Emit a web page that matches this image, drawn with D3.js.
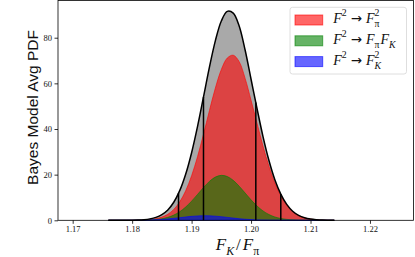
<!DOCTYPE html>
<html lang="en">
<head>
<meta charset="utf-8">
<title>Bayes model average PDF of FK/Fpi</title>
<script src="https://d3js.org/d3.v7.min.js"></script>
<style>
    body { margin: 0; background: #fff; }
    text { font-family: 'Liberation Serif', serif; fill: #111; }
    .ylabel { font-family: 'Liberation Sans', sans-serif; }
</style>
</head>
<body>
<svg width="415" height="257"></svg>
<script>
// F_K/F_pi grid the curves were read on
var xs = [1.176, 1.177, 1.178, 1.179, 1.180, 1.181, 1.182, 1.183, 1.184, 1.185,
          1.186, 1.187, 1.188, 1.189, 1.190, 1.191, 1.192, 1.193, 1.194, 1.195,
          1.196, 1.197, 1.198, 1.199, 1.200, 1.201, 1.202, 1.203, 1.204, 1.205,
          1.206, 1.207, 1.208, 1.209, 1.210, 1.211, 1.212, 1.213, 1.214];

// total model average (gray)
var totalPdf = [0.001, 0.002, 0.008, 0.022, 0.054, 0.13, 0.29, 0.63, 1.28, 2.49,
                4.54, 7.90, 12.98, 20.16, 29.62, 41.15, 54.04, 67.08, 78.71, 87.31,
                91.55, 90.79, 85.15, 74.60, 61.80, 49.00, 36.80, 26.30, 17.80, 11.50,
                6.98, 3.98, 2.15, 1.10, 0.53, 0.25, 0.10, 0.044, 0.017];

// F^2 -> F_pi^2 (red)
var pi2Pdf = [0.000, 0.001, 0.003, 0.009, 0.024, 0.061, 0.146, 0.327, 0.70, 1.40,
              2.65, 4.76, 8.07, 12.91, 19.52, 27.90, 37.68, 48.08, 57.97, 66.05,
              71.10, 72.32, 69.51, 62.18, 52.55, 42.55, 32.58, 23.72, 16.31, 10.70,
              6.57, 3.79, 2.07, 1.07, 0.52, 0.24, 0.10, 0.043, 0.017];

// F^2 -> F_pi F_K (green)
var piKPdf = [0.000, 0.000, 0.001, 0.004, 0.011, 0.029, 0.070, 0.16, 0.34, 0.69,
              1.29, 2.28, 3.76, 5.80, 8.38, 11.34, 14.36, 17.04, 18.93, 19.69,
              19.18, 17.50, 14.94, 11.95, 8.95, 6.27, 4.12, 2.53, 1.46, 0.79,
              0.40, 0.19, 0.083, 0.034, 0.013, 0.005, 0.002, 0.001, 0.000];

// F^2 -> F_K^2 (blue)
var k2Pdf = [0.001, 0.001, 0.004, 0.009, 0.019, 0.040, 0.077, 0.14, 0.24, 0.40,
             0.60, 0.86, 1.15, 1.45, 1.72, 1.91, 2.00, 1.96, 1.81, 1.57,
             1.27, 0.97, 0.70, 0.47, 0.30, 0.18, 0.10, 0.052, 0.026, 0.012,
             0.005, 0.002, 0.001, 0, 0, 0, 0, 0, 0];

// 68% / 95% interval edges and the pdf height there
var bandEdges = [1.1878, 1.1920, 1.2008, 1.2050];
var bandHeights = [11.9, 54.0, 51.6, 11.5];

var xTicks = [1.17, 1.18, 1.19, 1.20, 1.21, 1.22];
var yTicks = [0, 20, 40, 60, 80];

var series = [
    {name: "pi2", values: pi2Pdf, color: "red",
     label: [{t: "F", it: 1}, {t: "2", sup: 1}, {t: "→", op: 1}, {t: "F", it: 1}, {t: "π", sub: 1, stack: 1}, {t: "2", sup: 1}]},
    {name: "piK", values: piKPdf, color: "green",
     label: [{t: "F", it: 1}, {t: "2", sup: 1}, {t: "→", op: 1}, {t: "F", it: 1}, {t: "π", sub: 1}, {t: "F", it: 1}, {t: "K", sub: 1, it: 1}]},
    {name: "k2", values: k2Pdf, color: "blue",
     label: [{t: "F", it: 1}, {t: "2", sup: 1}, {t: "→", op: 1}, {t: "F", it: 1}, {t: "K", sub: 1, it: 1, stack: 1}, {t: "2", sup: 1}]}
];

var svg = d3.select("svg"),
    margin = {top: 0.5, right: 1.5, bottom: 36.7, left: 58},
    width = +svg.attr("width") - margin.left - margin.right,
    height = +svg.attr("height") - margin.top - margin.bottom;

var x = d3.scaleLinear().domain([1.16753, 1.22732]).range([margin.left, margin.left + width]);
var y = d3.scaleLinear().domain([0, 96.3]).range([margin.top + height, margin.top]);

var area = function(vals) {
    return d3.area()
        .x(function(d, i) { return x(xs[i]); })
        .y0(y(0))
        .y1(function(d) { return y(d); })
        .curve(d3.curveCatmullRom)(vals);
};

// gray total first, the components over it
svg.append("path")
    .attr("d", area(totalPdf))
    .attr("fill", "#808080")
    .attr("fill-opacity", 0.68);

series.forEach(function(s) {
    svg.append("path")
        .attr("d", area(s.values))
        .attr("fill", s.color)
        .attr("fill-opacity", 0.6)
        .attr("stroke", s.color)
        .attr("stroke-opacity", 0.6)
        .attr("stroke-width", 1);
});

svg.append("path")
    .attr("d", d3.line()
        .x(function(d, i) { return x(xs[i]); })
        .y(function(d) { return y(d); })
        .curve(d3.curveCatmullRom)(totalPdf))
    .attr("fill", "none")
    .attr("stroke", "#000")
    .attr("stroke-width", 1.5);

svg.selectAll(".band")
    .data(bandEdges)
    .enter().append("line")
    .attr("class", "band")
    .attr("x1", function(d) { return x(d); })
    .attr("x2", function(d) { return x(d); })
    .attr("y1", y(0))
    .attr("y2", function(d, i) { return y(bandHeights[i]); })
    .attr("stroke", "#000")
    .attr("stroke-width", 1.5);

// axes
var xAxis = svg.append("g")
    .attr("transform", "translate(0," + y(0) + ")")
    .call(d3.axisBottom(x).tickValues(xTicks).tickFormat(d3.format(".2f")).tickSize(3.5).tickPadding(2.5));
var yAxis = svg.append("g")
    .attr("transform", "translate(" + margin.left + ",0)")
    .call(d3.axisLeft(y).tickValues(yTicks).tickSize(3.5).tickPadding(2.5));

[xAxis, yAxis].forEach(function(a) {
    a.select(".domain").remove();
    a.selectAll("line").attr("stroke", "#000").attr("stroke-width", 0.8);
    a.selectAll("text").style("font-family", "'Liberation Serif', serif").style("font-size", "8.5px").attr("fill", "#111");
});

svg.append("rect")
    .attr("x", margin.left)
    .attr("y", margin.top)
    .attr("width", width)
    .attr("height", height)
    .attr("fill", "none")
    .attr("stroke", "#000")
    .attr("stroke-width", 0.8);

// TeX-like label in one <text>: tspans for sub/superscripts,
// a "stack" part puts the next part at the same x (F_pi^2)
function mathText(g, x0, y0, parts, size) {
    var text = g.append("text").attr("x", x0).attr("y", y0);
    var stackX = null;
    parts.forEach(function(p, i) {
        var fs = (p.sub || p.sup) ? size * 0.7 : size;
        var off = p.sub ? size * 0.3 : (p.sup ? -size * 0.48 : 0);
        var ts = text.append("tspan")
            .attr("y", y0 + off)
            .style("font-size", fs + "px")
            .style("font-style", p.it ? "italic" : "normal")
            .text(p.t);
        var dx = p.dx || 0;
        if (p.op) {
            dx = size * 0.28;
            ts.style("font-family", "'DejaVu Sans', sans-serif").style("font-size", (size * 0.95) + "px");
        } else if (i > 0 && parts[i - 1].op) {
            dx = size * 0.3;
        } else if (p.it && !p.sub && i > 0) {
            dx += size * 0.06;
        }
        if (dx) ts.attr("dx", dx);
        if (stackX !== null) { ts.attr("x", stackX); stackX = null; }
        if (p.stack) stackX = ts.node().getStartPositionOfChar(0).x;
    });
    return text;
}

// legend
var legend = svg.append("g");
legend.append("rect")
    .attr("x", 290).attr("y", 7.3)
    .attr("width", 116.5).attr("height", 66.7)
    .attr("rx", 2.5)
    .attr("fill", "#fff").attr("fill-opacity", 0.8)
    .attr("stroke", "#d6d6d6").attr("stroke-width", 0.8);

series.forEach(function(s, i) {
    var ry = 15 + i * 20.8;
    legend.append("rect")
        .attr("x", 295).attr("y", ry)
        .attr("width", 27.7).attr("height", 10)
        .attr("fill", s.color).attr("fill-opacity", 0.6)
        .attr("stroke", s.color).attr("stroke-opacity", 0.6).attr("stroke-width", 1);
    mathText(legend, 333.3, ry + 8.2, s.label, 14);
});

// axis labels
var xl = mathText(svg, 0, 250, [{t: "F", it: 1}, {t: "K", sub: 1, it: 1}, {t: "/", dx: 2}, {t: "F", it: 1, dx: 1}, {t: "π", sub: 1}], 17);
var bb = xl.node().getBBox();
xl.attr("transform", "translate(" + (237 - bb.width / 2 - bb.x) + ",0)");

svg.append("text")
    .attr("class", "ylabel")
    .attr("transform", "translate(37.5,107.5) rotate(-90)")
    .attr("text-anchor", "middle")
    .style("font-size", "15.5px")
    .text("Bayes Model Avg PDF");
</script>
</body>
</html>
